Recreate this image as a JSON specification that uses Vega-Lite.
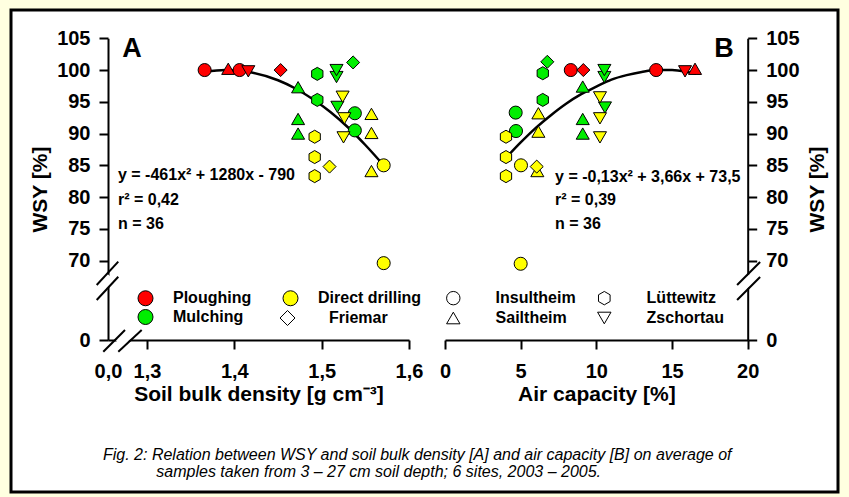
{
  "$schema": "https://vega.github.io/schema/vega-lite/v6.json",
  "width": 827,
  "height": 482,
  "autosize": {"type": "none"},
  "padding": {"left": 11, "top": 10, "right": 11, "bottom": 5},
  "background": "#FFFFE0",
  "title": {
    "text": ["Fig. 2: Relation between WSY and soil bulk density [A] and air capacity [B] on average of", "\u200b\u00a0\u00a0\u00a0\u00a0\u00a0\u00a0\u00a0\u00a0\u00a0\u00a0\u00a0\u00a0samples taken from 3 \u2013 27 cm soil depth; 6 sites, 2003 \u2013 2005."],
    "orient": "bottom",
    "anchor": "start",
    "frame": "group",
    "offset": -45,
    "dx": 92,
    "font": "Liberation Sans",
    "fontStyle": "italic",
    "fontWeight": "normal",
    "fontSize": 16,
    "lineHeight": 17,
    "color": "black"
  },
  "datasets": {
    "pts": [
      {"panel": "A", "tillage": "Ploughing", "site": "Insultheim", "x": 1.366, "y": 100},
      {"panel": "A", "tillage": "Ploughing", "site": "Sailtheim", "x": 1.393, "y": 100.2},
      {"panel": "A", "tillage": "Ploughing", "site": "Insultheim", "x": 1.406, "y": 100},
      {"panel": "A", "tillage": "Ploughing", "site": "Zschortau", "x": 1.416, "y": 99.8},
      {"panel": "A", "tillage": "Ploughing", "site": "Friemar", "x": 1.453, "y": 100},
      {"panel": "A", "tillage": "Mulching", "site": "Sailtheim", "x": 1.473, "y": 97.3},
      {"panel": "A", "tillage": "Mulching", "site": "Lüttewitz", "x": 1.495, "y": 99.4},
      {"panel": "A", "tillage": "Mulching", "site": "Zschortau", "x": 1.517, "y": 98.9},
      {"panel": "A", "tillage": "Mulching", "site": "Zschortau", "x": 1.517, "y": 100},
      {"panel": "A", "tillage": "Mulching", "site": "Friemar", "x": 1.536, "y": 101.2},
      {"panel": "A", "tillage": "Mulching", "site": "Lüttewitz", "x": 1.495, "y": 95.3},
      {"panel": "A", "tillage": "Mulching", "site": "Zschortau", "x": 1.518, "y": 94.2},
      {"panel": "A", "tillage": "Mulching", "site": "Insultheim", "x": 1.538, "y": 93.2},
      {"panel": "A", "tillage": "Mulching", "site": "Sailtheim", "x": 1.473, "y": 92.3},
      {"panel": "A", "tillage": "Mulching", "site": "Sailtheim", "x": 1.473, "y": 90.0},
      {"panel": "A", "tillage": "Mulching", "site": "Insultheim", "x": 1.538, "y": 90.5},
      {"panel": "A", "tillage": "Direct drilling", "site": "Zschortau", "x": 1.524, "y": 95.8},
      {"panel": "A", "tillage": "Direct drilling", "site": "Zschortau", "x": 1.526, "y": 92.4},
      {"panel": "A", "tillage": "Direct drilling", "site": "Sailtheim", "x": 1.557, "y": 93.1},
      {"panel": "A", "tillage": "Direct drilling", "site": "Lüttewitz", "x": 1.492, "y": 89.5},
      {"panel": "A", "tillage": "Direct drilling", "site": "Zschortau", "x": 1.525, "y": 89.4},
      {"panel": "A", "tillage": "Direct drilling", "site": "Sailtheim", "x": 1.557, "y": 90.1},
      {"panel": "A", "tillage": "Direct drilling", "site": "Lüttewitz", "x": 1.492, "y": 86.3},
      {"panel": "A", "tillage": "Direct drilling", "site": "Friemar", "x": 1.509, "y": 84.8},
      {"panel": "A", "tillage": "Direct drilling", "site": "Lüttewitz", "x": 1.492, "y": 83.3},
      {"panel": "A", "tillage": "Direct drilling", "site": "Sailtheim", "x": 1.557, "y": 84.1},
      {"panel": "A", "tillage": "Direct drilling", "site": "Insultheim", "x": 1.571, "y": 85.0},
      {"panel": "A", "tillage": "Direct drilling", "site": "Insultheim", "x": 1.571, "y": 69.6},
      {"panel": "B", "tillage": "Ploughing", "site": "Insultheim", "x": 8.31, "y": 100},
      {"panel": "B", "tillage": "Ploughing", "site": "Friemar", "x": 9.14, "y": 100},
      {"panel": "B", "tillage": "Ploughing", "site": "Insultheim", "x": 13.95, "y": 100},
      {"panel": "B", "tillage": "Ploughing", "site": "Zschortau", "x": 15.86, "y": 99.8},
      {"panel": "B", "tillage": "Ploughing", "site": "Sailtheim", "x": 16.52, "y": 100.2},
      {"panel": "B", "tillage": "Mulching", "site": "Friemar", "x": 6.76, "y": 101.3},
      {"panel": "B", "tillage": "Mulching", "site": "Lüttewitz", "x": 6.46, "y": 99.5},
      {"panel": "B", "tillage": "Mulching", "site": "Zschortau", "x": 10.53, "y": 98.9},
      {"panel": "B", "tillage": "Mulching", "site": "Zschortau", "x": 10.53, "y": 100},
      {"panel": "B", "tillage": "Mulching", "site": "Sailtheim", "x": 9.1, "y": 97.4},
      {"panel": "B", "tillage": "Mulching", "site": "Lüttewitz", "x": 6.46, "y": 95.3},
      {"panel": "B", "tillage": "Mulching", "site": "Zschortau", "x": 10.57, "y": 94.1},
      {"panel": "B", "tillage": "Mulching", "site": "Insultheim", "x": 4.67, "y": 93.3},
      {"panel": "B", "tillage": "Mulching", "site": "Sailtheim", "x": 9.1, "y": 92.3},
      {"panel": "B", "tillage": "Mulching", "site": "Sailtheim", "x": 9.1, "y": 90.0},
      {"panel": "B", "tillage": "Mulching", "site": "Insultheim", "x": 4.69, "y": 90.4},
      {"panel": "B", "tillage": "Direct drilling", "site": "Zschortau", "x": 10.24, "y": 95.7},
      {"panel": "B", "tillage": "Direct drilling", "site": "Zschortau", "x": 10.24, "y": 92.4},
      {"panel": "B", "tillage": "Direct drilling", "site": "Sailtheim", "x": 6.17, "y": 93.2},
      {"panel": "B", "tillage": "Direct drilling", "site": "Zschortau", "x": 10.24, "y": 89.4},
      {"panel": "B", "tillage": "Direct drilling", "site": "Sailtheim", "x": 6.17, "y": 90.3},
      {"panel": "B", "tillage": "Direct drilling", "site": "Lüttewitz", "x": 4.03, "y": 89.5},
      {"panel": "B", "tillage": "Direct drilling", "site": "Lüttewitz", "x": 4.03, "y": 86.3},
      {"panel": "B", "tillage": "Direct drilling", "site": "Insultheim", "x": 5.02, "y": 85.0},
      {"panel": "B", "tillage": "Direct drilling", "site": "Sailtheim", "x": 6.1, "y": 84.1},
      {"panel": "B", "tillage": "Direct drilling", "site": "Friemar", "x": 6.06, "y": 84.8},
      {"panel": "B", "tillage": "Direct drilling", "site": "Lüttewitz", "x": 4.03, "y": 83.3},
      {"panel": "B", "tillage": "Direct drilling", "site": "Insultheim", "x": 5.0, "y": 69.5}
    ],
    "curves": [
      {"panel": "A", "x": 1.366, "y": 99.7},
      {"panel": "A", "x": 1.39, "y": 100.0},
      {"panel": "A", "x": 1.42, "y": 99.6},
      {"panel": "A", "x": 1.45, "y": 98.4},
      {"panel": "A", "x": 1.47, "y": 97.1},
      {"panel": "A", "x": 1.49, "y": 95.4},
      {"panel": "A", "x": 1.51, "y": 93.4},
      {"panel": "A", "x": 1.53, "y": 91.0},
      {"panel": "A", "x": 1.55, "y": 88.2},
      {"panel": "A", "x": 1.571, "y": 85.0},
      {"panel": "B", "x": 4.08, "y": 86.3},
      {"panel": "B", "x": 5, "y": 88.6},
      {"panel": "B", "x": 6, "y": 90.9},
      {"panel": "B", "x": 7, "y": 92.9},
      {"panel": "B", "x": 8, "y": 94.7},
      {"panel": "B", "x": 9, "y": 96.2},
      {"panel": "B", "x": 10, "y": 97.4},
      {"panel": "B", "x": 11, "y": 98.5},
      {"panel": "B", "x": 12, "y": 99.2},
      {"panel": "B", "x": 13, "y": 99.7},
      {"panel": "B", "x": 14, "y": 100.0},
      {"panel": "B", "x": 15, "y": 100.0},
      {"panel": "B", "x": 16, "y": 99.7},
      {"panel": "B", "x": 16.6, "y": 99.4}
    ],
    "notes": [
      {"panel": "A", "kind": "letter", "text": "A", "x": 0.8, "y": 103.3},
      {"panel": "A", "kind": "eq", "text": "y = -461x² + 1280x - 790", "x": 0.333, "y": 83.4},
      {"panel": "A", "kind": "eq", "text": "r² = 0,42", "x": 0.333, "y": 79.5},
      {"panel": "A", "kind": "eq", "text": "n = 36", "x": 0.333, "y": 75.7},
      {"panel": "B", "kind": "letter", "text": "B", "x": 18.44, "y": 103.3},
      {"panel": "B", "kind": "eq", "text": "y = -0,13x² + 3,66x + 73,5", "x": 7.27, "y": 83.2},
      {"panel": "B", "kind": "eq", "text": "r² = 0,39", "x": 7.27, "y": 79.5},
      {"panel": "B", "kind": "eq", "text": "n = 36", "x": 7.27, "y": 75.7}
    ],
    "breaks": [
      {"panel": "A", "kind": "gap", "x": -0.167, "y": 55.4, "x2": 0.1, "y2": 64.1},
      {"panel": "A", "kind": "gap", "x": 0.367, "y": -4.1, "x2": 0.633, "y2": 4.1},
      {"panel": "A", "kind": "slash", "x": -0.377, "y": 56.1, "x2": 0.343, "y2": 69.83},
      {"panel": "A", "kind": "slash", "x": -0.377, "y": 40.8, "x2": 0.343, "y2": 64.5},
      {"panel": "A", "kind": "slash", "x": -0.157, "y": -11.9, "x2": 0.567, "y2": 10.2},
      {"panel": "A", "kind": "slash", "x": 0.343, "y": -11.9, "x2": 1.123, "y2": 10.2},
      {"panel": "B", "kind": "gap", "x": 19.76, "y": 55.6, "x2": 20.29, "y2": 63.7},
      {"panel": "B", "kind": "slash", "x": 19.3, "y": 56.1, "x2": 20.82, "y2": 69.78},
      {"panel": "B", "kind": "slash", "x": 19.3, "y": 40.8, "x2": 20.82, "y2": 64.2}
    ]
  },
  "resolve": {
    "scale": {"x": "independent", "y": "independent", "shape": "independent"},
    "legend": {"shape": "independent"}
  },
  "layer": [
    {
      "encoding": {
        "x": {"field": "x", "type": "quantitative",
          "scale": {"domain": [0, 1.3, 1.6], "range": [97, 136, 398], "nice": false, "zero": false},
          "axis": {"orient": "bottom", "offset": -152, "values": [0, 1.3, 1.4, 1.5, 1.6],
            "labelExpr": "replace(format(datum.value, '.1f'), '.', ',')",
            "title": "Soil bulk density [g cm⁻³]", "titleY": 43,
            "tickOpacity": {"condition": {"test": "datum.value === 0", "value": 0}, "value": 1}}},
        "y": {"field": "y", "type": "quantitative",
          "scale": {"domain": [0, 68, 105], "range": [330, 263.3, 28.3], "nice": false, "zero": false},
          "axis": {"orient": "left", "offset": -97, "values": [0, 70, 75, 80, 85, 90, 95, 100, 105],
            "title": "WSY [%]", "titleAngle": 270, "titleBaseline": "middle", "titleAlign": "center", "titleX": -68, "titleY": 179}}
      },
      "layer": [
        {"data": {"name": "breaks"}, "transform": [{"filter": "datum.panel === 'A' && datum.kind === 'gap'"}],
          "mark": {"type": "rule", "color": "white", "strokeWidth": 9, "strokeCap": "butt"},
          "encoding": {"x2": {"field": "x2"}, "y2": {"field": "y2"}}},
        {"data": {"name": "breaks"}, "transform": [{"filter": "datum.panel === 'A' && datum.kind === 'slash'"}],
          "mark": {"type": "rule", "color": "black", "strokeWidth": 2},
          "encoding": {"x2": {"field": "x2"}, "y2": {"field": "y2"}}},
        {"data": {"name": "curves"}, "transform": [{"filter": "datum.panel === 'A'"}],
          "mark": {"type": "line", "color": "black", "strokeWidth": 2.5, "interpolate": "monotone"},
          "encoding": {}},
        {"data": {"name": "pts"}, "transform": [{"filter": "datum.panel === 'A'"}],
          "mark": {"type": "point", "filled": true, "opacity": 1, "stroke": "black", "strokeWidth": 1, "size": 170},
          "encoding": {
            "color": {"field": "tillage", "type": "nominal",
              "scale": {"domain": ["Ploughing", "Mulching", "Direct drilling"], "range": ["#FF0000", "#00EE00", "#FFFF00"]},
              "legend": {"orient": "none", "legendX": 126.5, "legendY": 280, "columns": 2, "title": null,
                "values": ["Ploughing", "Mulching", "Direct drilling"],
                "symbolType": "circle", "symbolSize": 225, "labelOffset": 19.5, "columnPadding": 29, "rowPadding": -1, "padding": 0,
                "symbolStrokeColor": "black", "symbolStrokeWidth": 1, "symbolOpacity": 1,
                "encode": {"symbols": {"update": {"stroke": {"value": "black"}, "strokeWidth": {"value": 1}, "opacity": {"value": 1}}}}}},
            "shape": {"field": "site", "type": "nominal",
              "scale": {"domain": ["Insultheim", "Sailtheim", "Friemar", "Lüttewitz", "Zschortau"],
                "range": ["circle", "triangle-up", "diamond", "M0,-1L0.866,-0.5L0.866,0.5L0,1L-0.866,0.5L-0.866,-0.5Z", "triangle-down"]},
              "legend": {"orient": "none", "legendX": 268.5, "legendY": 300, "values": ["Friemar"], "title": null,
                "symbolSize": 225, "labelOffset": 33.5, "padding": 0,
                "symbolFillColor": "white", "symbolStrokeColor": "black", "symbolStrokeWidth": 1, "symbolOpacity": 1,
                "encode": {"symbols": {"update": {"fill": {"value": "white"}, "stroke": {"value": "black"}, "strokeWidth": {"value": 1}, "opacity": {"value": 1}}}}}}
          }},
        {"data": {"name": "notes"}, "transform": [{"filter": "datum.panel === 'A' && datum.kind === 'letter'"}],
          "mark": {"type": "text", "font": "Liberation Sans", "fontWeight": "bold", "fontSize": 27, "align": "center", "baseline": "middle", "color": "black"},
          "encoding": {"text": {"field": "text"}}},
        {"data": {"name": "notes"}, "transform": [{"filter": "datum.panel === 'A' && datum.kind === 'eq'"}],
          "mark": {"type": "text", "font": "Liberation Sans", "fontWeight": "bold", "fontSize": 16, "align": "left", "baseline": "middle", "color": "black"},
          "encoding": {"text": {"field": "text"}}}
      ]
    },
    {
      "encoding": {
        "x": {"field": "x", "type": "quantitative",
          "scale": {"domain": [0, 20], "range": [434, 736.7], "nice": false, "zero": false},
          "axis": {"orient": "bottom", "offset": -152, "values": [0, 5, 10, 15, 20],
            "title": "Air capacity [%]", "titleY": 43}},
        "y": {"field": "y", "type": "quantitative",
          "scale": {"domain": [0, 68, 105], "range": [330, 263.3, 28.3], "nice": false, "zero": false},
          "axis": {"orient": "right", "offset": -90.3, "values": [0, 70, 75, 80, 85, 90, 95, 100, 105],
            "title": "WSY [%]", "titleAngle": 270, "titleBaseline": "middle", "titleAlign": "center", "titleX": 70, "titleY": 179}}
      },
      "layer": [
        {"data": {"name": "breaks"}, "transform": [{"filter": "datum.panel === 'B' && datum.kind === 'gap'"}],
          "mark": {"type": "rule", "color": "white", "strokeWidth": 9, "strokeCap": "butt"},
          "encoding": {"x2": {"field": "x2"}, "y2": {"field": "y2"}}},
        {"data": {"name": "breaks"}, "transform": [{"filter": "datum.panel === 'B' && datum.kind === 'slash'"}],
          "mark": {"type": "rule", "color": "black", "strokeWidth": 2},
          "encoding": {"x2": {"field": "x2"}, "y2": {"field": "y2"}}},
        {"data": {"name": "curves"}, "transform": [{"filter": "datum.panel === 'B'"}],
          "mark": {"type": "line", "color": "black", "strokeWidth": 2.5, "interpolate": "monotone"},
          "encoding": {}},
        {"data": {"name": "pts"}, "transform": [{"filter": "datum.panel === 'B'"}],
          "mark": {"type": "point", "filled": true, "opacity": 1, "stroke": "black", "strokeWidth": 1, "size": 170},
          "encoding": {
            "color": {"field": "tillage", "type": "nominal",
              "scale": {"domain": ["Ploughing", "Mulching", "Direct drilling"], "range": ["#FF0000", "#00EE00", "#FFFF00"]},
              "legend": {"orient": "none", "legendX": 126.5, "legendY": 280, "columns": 2, "title": null,
                "values": ["Ploughing", "Mulching", "Direct drilling"],
                "symbolType": "circle", "symbolSize": 225, "labelOffset": 19.5, "columnPadding": 29, "rowPadding": -1, "padding": 0,
                "symbolStrokeColor": "black", "symbolStrokeWidth": 1, "symbolOpacity": 1,
                "encode": {"symbols": {"update": {"stroke": {"value": "black"}, "strokeWidth": {"value": 1}, "opacity": {"value": 1}}}}}},
            "shape": {"field": "site", "type": "nominal",
              "scale": {"domain": ["Insultheim", "Sailtheim", "Friemar", "Lüttewitz", "Zschortau"],
                "range": ["circle", "triangle-up", "diamond", "M0,-1L0.866,-0.5L0.866,0.5L0,1L-0.866,0.5L-0.866,-0.5Z", "triangle-down"]},
              "legend": {"orient": "none", "legendX": 434.3, "legendY": 280, "columns": 2,
                "values": ["Insultheim", "Sailtheim", "Lüttewitz", "Zschortau"], "title": null,
                "symbolSize": 180, "labelOffset": 34.3, "columnPadding": 19, "rowPadding": 3, "padding": 0,
                "symbolFillColor": "white", "symbolStrokeColor": "black", "symbolStrokeWidth": 1, "symbolOpacity": 1,
                "encode": {"symbols": {"update": {"fill": {"value": "white"}, "stroke": {"value": "black"}, "strokeWidth": {"value": 1}, "opacity": {"value": 1}}}}}}
          }},
        {"data": {"name": "notes"}, "transform": [{"filter": "datum.panel === 'B' && datum.kind === 'letter'"}],
          "mark": {"type": "text", "font": "Liberation Sans", "fontWeight": "bold", "fontSize": 27, "align": "center", "baseline": "middle", "color": "black"},
          "encoding": {"text": {"field": "text"}}},
        {"data": {"name": "notes"}, "transform": [{"filter": "datum.panel === 'B' && datum.kind === 'eq'"}],
          "mark": {"type": "text", "font": "Liberation Sans", "fontWeight": "bold", "fontSize": 16, "align": "left", "baseline": "middle", "color": "black"},
          "encoding": {"text": {"field": "text"}}}
      ]
    }
  ],
  "config": {
    "view": {"fill": "white", "stroke": "black", "strokeWidth": 3},
    "axis": {
      "grid": false,
      "domainColor": "black", "domainWidth": 2,
      "tickColor": "black", "tickWidth": 2, "tickSize": 9,
      "labelFont": "Liberation Sans", "labelFontWeight": "bold", "labelFontSize": 20, "labelColor": "black", "labelPadding": 9,
      "labelOverlap": false, "labelFlush": false,
      "titleFont": "Liberation Sans", "titleFontWeight": "bold", "titleFontSize": 21, "titleColor": "black"
    },
    "axisX": {"labelPadding": 12},
    "legend": {
      "labelFont": "Liberation Sans", "labelFontWeight": "bold", "labelFontSize": 16, "labelColor": "black", "labelLimit": 300
    }
  }
}
